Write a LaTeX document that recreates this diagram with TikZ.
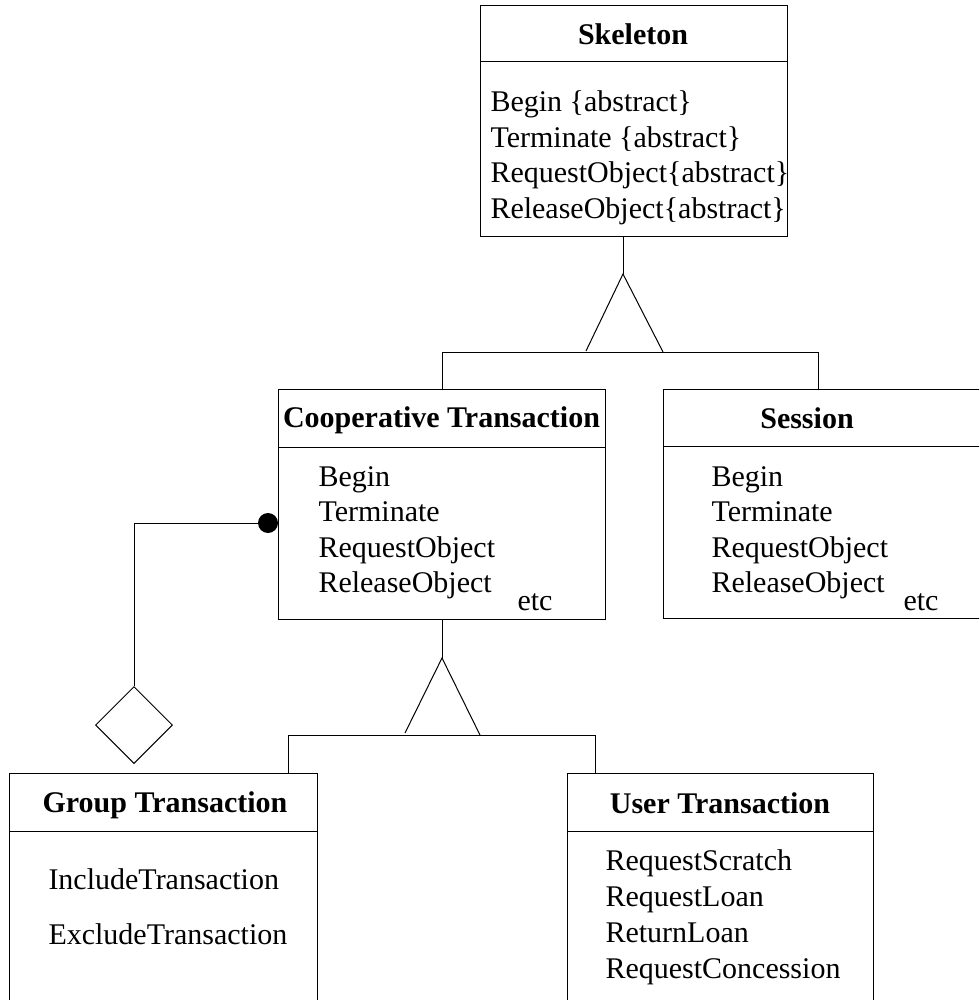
\documentclass[tikz,border=0pt]{standalone}
\usepackage{fontspec}
\setmainfont{Liberation Serif}
\usepackage{tikz}
\usetikzlibrary{shapes.geometric}

\begin{document}
\begin{tikzpicture}
  [x=0.5pt, y=-0.5pt, line width=0.5pt,
   every node/.style={font=\fontsize{15pt}{17pt}\selectfont},
   classbox/.style={draw, rectangle, anchor=north west, inner sep=0pt},
   classname/.style={anchor=base, inner sep=0pt,
     font=\fontsize{15pt}{17pt}\selectfont\bfseries},
   item/.style={anchor=base west, inner sep=0pt},
   aggdot/.style={circle, fill, inner sep=0pt, minimum size=10pt},
   aggdiamond/.style={draw, diamond, inner sep=0pt, minimum width=38.5pt,
     minimum height=38.5pt},
  ]
  \path[use as bounding box] (0,0) rectangle (979,1000);
  \clip (0,0) rectangle (979,1000);

  \node[classbox, minimum width=153.5pt, minimum height=115.5pt] (skel) at (480,5) {};
  \node[classbox, minimum width=163.5pt, minimum height=115pt] (coop) at (278,389) {};
  \node[classbox, minimum width=160pt, minimum height=114.5pt] (sess) at (663,389) {};
  \node[classbox, minimum width=154pt, minimum height=120pt] (group) at (9,773) {};
  \node[classbox, minimum width=153pt, minimum height=120pt] (user) at (567,773) {};

  \draw ([yshift=-28.5pt]skel.north west) -- ([yshift=-28.5pt]skel.north east);
  \draw ([yshift=-29pt]coop.north west) -- ([yshift=-29pt]coop.north east);
  \draw ([yshift=-28.5pt]sess.north west) -- ([yshift=-28.5pt]sess.north east);
  \draw ([yshift=-29pt]group.north west) -- ([yshift=-29pt]group.north east);
  \draw ([yshift=-29pt]user.north west) -- ([yshift=-29pt]user.north east);

  \node[classname] (skel-name) at (633,45) {Skeleton};
  \foreach \txt [count=\i] in {Begin \{abstract\}, Terminate \{abstract\},
      RequestObject\{abstract\}, ReleaseObject\{abstract\}}
    \node[item] (skel-\i) at (490,{112+35.5*(\i-1)}) {\txt};

  \node[classname] (coop-name) at (441.5,427) {Cooperative Transaction};
  \foreach \txt [count=\i] in {Begin, Terminate, RequestObject, ReleaseObject}
    \node[item] (coop-\i) at (318,{486+35.5*(\i-1)}) {\txt};
  \node[item] (coop-etc) at (517,610) {etc};

  \node[classname] (sess-name) at (807,428) {Session};
  \foreach \txt [count=\i] in {Begin, Terminate, RequestObject, ReleaseObject}
    \node[item] (sess-\i) at (711,{486+35.5*(\i-1)}) {\txt};
  \node[item] (sess-etc) at (903,610) {etc};

  \node[classname] (group-name) at (165,812) {Group Transaction};
  \node[item] (group-1) at (48,889) {IncludeTransaction};
  \node[item] (group-2) at (48,944) {ExcludeTransaction};

  \node[classname] (user-name) at (720,813) {User Transaction};
  \foreach \txt [count=\i] in {RequestScratch, RequestLoan, ReturnLoan,
      RequestConcession}
    \node[item] (user-\i) at (605,{870+36*(\i-1)}) {\txt};

  \coordinate (gen1) at (623,274);
  \coordinate (gen1l) at (586,351);
  \coordinate (gen1r) at (663,352);
  \coordinate (bar1l) at (442,352);
  \coordinate (bar1r) at (818,352);
  \draw (skel.south -| gen1) -- (gen1);
  \draw (gen1l) -- (gen1) -- (gen1r);
  \draw (coop.north -| bar1l) -- (bar1l) -- (bar1r) -- (sess.north -| bar1r);

  \coordinate (gen2) at (442,658);
  \coordinate (gen2l) at (405,733);
  \coordinate (gen2r) at (480,735);
  \coordinate (bar2l) at (288,735);
  \coordinate (bar2r) at (595,735);
  \draw (coop.south -| gen2) -- (gen2);
  \draw (gen2l) -- (gen2) -- (gen2r);
  \draw (group.north -| bar2l) -- (bar2l) -- (bar2r) -- (user.north -| bar2r);

  \node[aggdot] (agg) at (268,523) {};
  \node[aggdiamond] (part) at (134,725) {};
  \draw (agg.west) -| (part.north);
\end{tikzpicture}
\end{document}
